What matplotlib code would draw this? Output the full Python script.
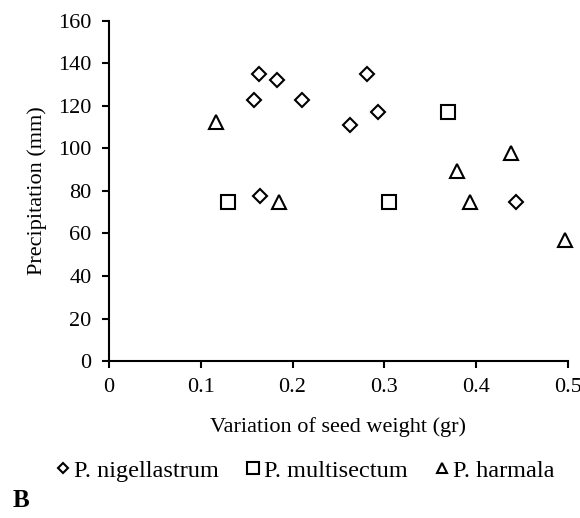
import matplotlib
matplotlib.use('Agg')
import matplotlib.pyplot as plt
from matplotlib.lines import Line2D

plt.rcParams['font.family'] = ['Liberation Serif', 'DejaVu Serif']

# P. nigellastrum
nig_x = [0.163, 0.183, 0.158, 0.210, 0.281, 0.293, 0.263, 0.165, 0.444]
nig_y = [135, 132, 122.5, 122.5, 135, 117, 111, 77.5, 75]
# P. multisectum
mul_x = [0.130, 0.305, 0.369]
mul_y = [75, 75, 117]
# P. harmala
har_x = [0.117, 0.185, 0.379, 0.393, 0.438, 0.497]
har_y = [112.5, 75, 89.5, 75, 98, 57]

x_ticks = [0, 0.1, 0.2, 0.3, 0.4, 0.5]
x_labels = ['0', '0.1', '0.2', '0.3', '0.4', '0.5']
y_ticks = [0, 20, 40, 60, 80, 100, 120, 140, 160]

fig = plt.figure(figsize=(5.8, 5.18), dpi=100)
ax = fig.add_axes([0.188, 0.303, 0.791, 0.657])

mk = dict(linestyle='none', markerfacecolor='white', markeredgecolor='black',
          markeredgewidth=1.5, clip_on=False)
ax.plot(nig_x, nig_y, marker='D', markersize=7, **mk)
ax.plot(mul_x, mul_y, marker='s', markersize=10, **mk)
ax.plot(har_x, har_y, marker='^', markersize=10, **mk)

ax.set_xlim(0, 0.5)
ax.set_ylim(0, 160)
ax.set_xticks(x_ticks)
ax.set_xticklabels(x_labels)
ax.set_yticks(y_ticks)
for s in ['top', 'right']:
    ax.spines[s].set_visible(False)
for s in ['left', 'bottom']:
    ax.spines[s].set_linewidth(1.5)
ax.tick_params(axis='both', labelsize=16, width=1.5, length=5, pad=7.5, colors='black')
ax.set_ylabel('Precipitation (mm)', fontsize=16, labelpad=8)
ax.set_xlabel('Variation of seed weight (gr)', fontsize=16, labelpad=14)

handles = [
    Line2D([], [], marker='D', markersize=5, **mk),
    Line2D([], [], marker='s', markersize=8, **mk),
    Line2D([], [], marker='^', markersize=7, **mk),
]
fig.legend(handles, ['P. nigellastrum', 'P. multisectum', 'P. harmala'],
           loc='center', bbox_to_anchor=(0.526, 0.091), ncol=3, frameon=False,
           fontsize=17.5, handlelength=0.6, handletextpad=0.15, columnspacing=1.1)

fig.text(0.036, 0.022, 'B', fontsize=18, fontweight='bold', ha='center')

fig.savefig('out.png', dpi=100)
